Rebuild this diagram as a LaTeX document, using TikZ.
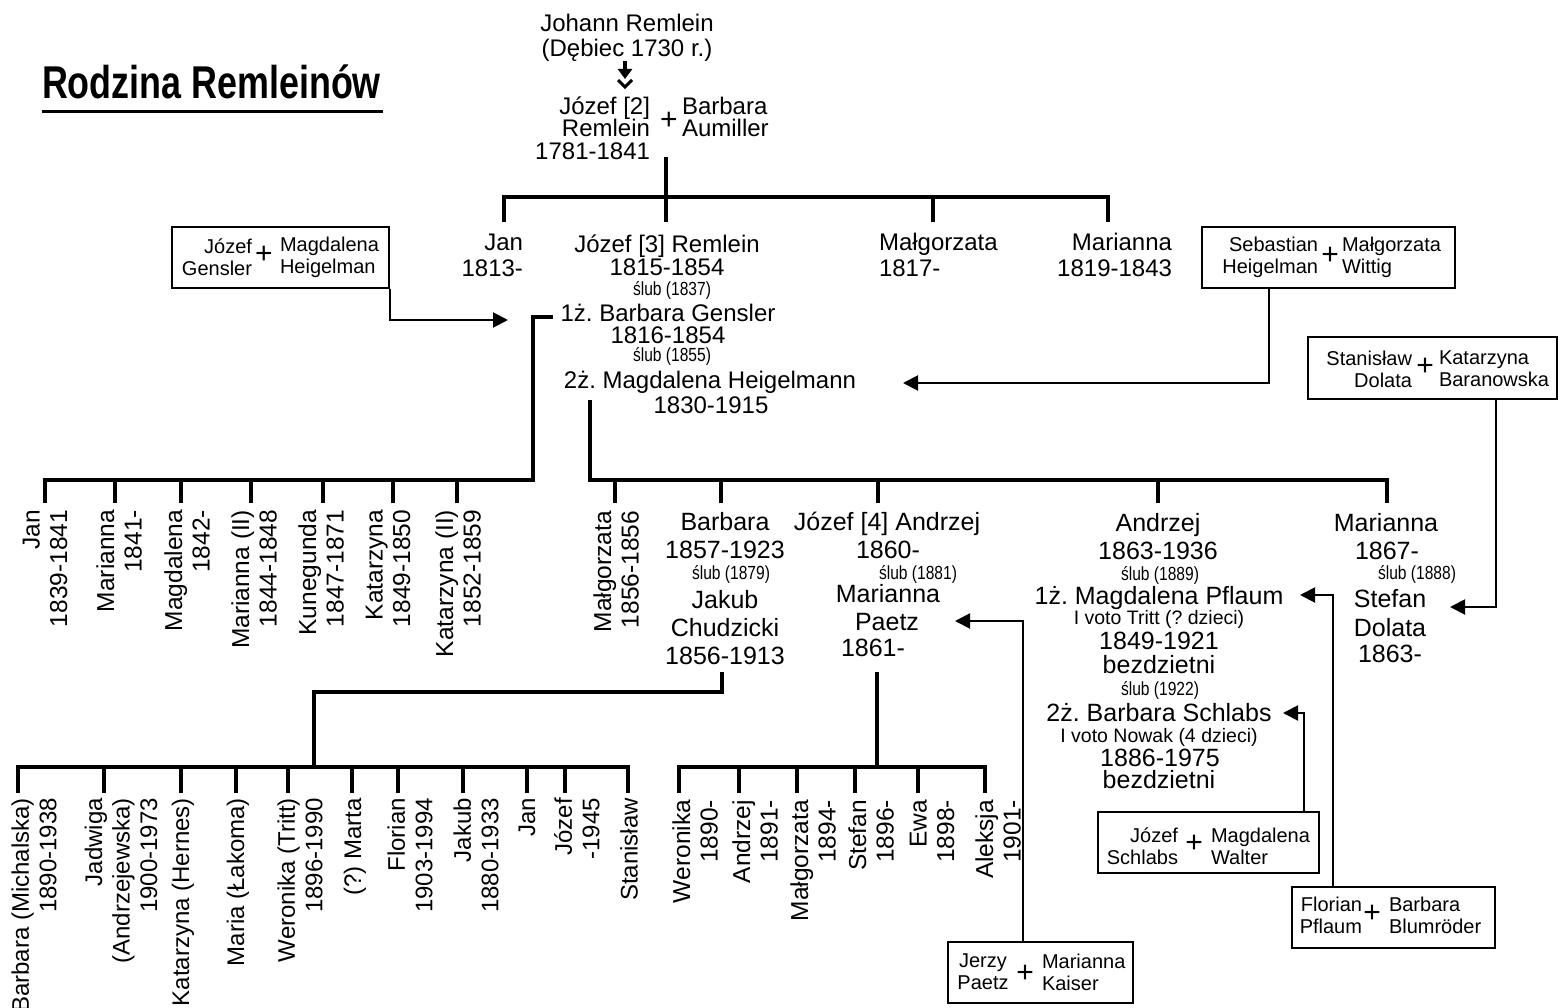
\documentclass[tikz,border=0pt]{standalone}
\usepackage{fontspec}
\setmainfont{Liberation Sans}
\newfontfamily\narrowfont[FakeStretch=0.82]{Liberation Sans}
\newfontfamily\titlefont[FakeStretch=0.78]{Liberation Sans}
\usetikzlibrary{arrows.meta}
\frenchspacing
\begin{document}
\begin{tikzpicture}[x=1pt,y=-1pt,
 t/.style={inner sep=0pt,outer sep=0pt},
 big/.style={t,font=\fontsize{24}{27}\selectfont},
 bigg/.style={t,font=\fontsize{25}{27}\selectfont},
 slub/.style={t,font=\narrowfont\fontsize{19}{20}\selectfont},
 mid/.style={t,font=\fontsize{19.5}{21}\selectfont},
 bx/.style={t,font=\fontsize{20}{22}\selectfont},
 plus/.style={t,font=\fontsize{30}{30}\selectfont},
 fam/.style={line width=3.8pt},
 arr/.style={line width=2pt,-{Triangle[length=15pt,width=15pt]}},
 fambox/.style={draw,line width=1.8pt,inner sep=0pt},
 kid/.style={t,rotate=90,anchor=east,align=right,font=\fontsize{24.5}{27.5}\selectfont},
 kidb/.style={kid,font=\fontsize{24}{27.5}\selectfont},
]
\fill[white] (0,0) rectangle (1563,1008);
\useasboundingbox (0,0) rectangle (1563,1008);

% title
\node[t,anchor=base west,font=\titlefont\bfseries\fontsize{46}{46}\selectfont] (title) at (42,99) {Rodzina Remleinów};
\draw[line width=3pt] (42,111.5) -- (383,111.5);

% generation 0
\node[big,anchor=base] (jr1) at (627,32) {Johann Remlein};
\node[big,anchor=base] (jr2) at (627,57) {(Dębiec 1730 r.)};
\coordinate (ar0) at (625,61);
\coordinate (ar1) at (625,79);
\draw[line width=4.5pt,-{Triangle[length=10pt,width=14pt]}] (ar0) -- (ar1);
\draw[line width=3pt] (618,80) -- (625,87) -- (632,80);

% generation 1
\node[big,anchor=base east] (j2a) at (650,115) {Józef [2]};
\node[big,anchor=base east] (j2b) at (650,137) {Remlein};
\node[big,anchor=base east] (j2c) at (650,160) {1781-1841};
\node[plus] (p0) at (669,121) {+};
\node[big,anchor=base west] (ba1) at (682,115) {Barbara};
\node[big,anchor=base west] (ba2) at (682,137) {Aumiller};

\draw[fam] (666,157) -- (666,222);
\draw[fam] (504,222) -- (504,197) -- (1108,197) -- (1108,222);
\draw[fam] (933,197) -- (933,222);

% generation 2
\node[big,anchor=base east] (g2a) at (523,251) {Jan};
\node[big,anchor=base east] (g2b) at (523,277) {1813-};
\node[big,anchor=base] (g3a) at (667,253) {Józef [3] Remlein};
\node[big,anchor=base] (g3b) at (667,276) {1815-1854};
\node[slub,anchor=base] (g3c) at (672,296) {ślub (1837)};
\node[big,anchor=base] (g3d) at (668,321) {1ż. Barbara Gensler};
\node[big,anchor=base] (g3e) at (668,343) {1816-1854};
\node[slub,anchor=base] (g3f) at (672,361) {ślub (1855)};
\node[big,anchor=base] (g3g) at (710,388) {2ż. Magdalena Heigelmann};
\node[big,anchor=base] (g3h) at (711,413) {1830-1915};
\node[big,anchor=base west] (g4a) at (879,251) {Małgorzata};
\node[big,anchor=base west] (g4b) at (879,277) {1817-};
\node[big,anchor=base east] (g5a) at (1172,251) {Marianna};
\node[big,anchor=base east] (g5b) at (1172,277) {1819-1843};

% boxes
\node[fambox,minimum width=217pt,minimum height=61pt] (bxG) at (280.5,257.5) {};
\node[bx,anchor=east,align=right] (bxGa) at (252,257) {Józef\\Gensler};
\node[plus] (bxGp) at (264,255) {+};
\node[bx,anchor=west,align=left] (bxGb) at (280,257) {Magdalena\\Heigelman};
\coordinate (tG) at (508,320);
\draw[arr] (bxG.south east) |- (tG);

\node[fambox,minimum width=253pt,minimum height=61pt] (bxS) at (1328.5,257.5) {};
\node[bx,anchor=east,align=right] (bxSa) at (1318,257) {Sebastian\\Heigelman};
\node[plus] (bxSp) at (1330,256) {+};
\node[bx,anchor=west,align=left] (bxSb) at (1342,257) {Małgorzata\\Wittig};
\coordinate (tS) at (903,383);
\draw[arr] ([xshift=-59.5pt]bxS.south) |- (tS);

\node[fambox,minimum width=249pt,minimum height=62pt] (bxD) at (1432.5,368) {};
\node[bx,anchor=east,align=right] (bxDa) at (1412,369) {Stanisław\\Dolata};
\node[plus] (bxDp) at (1425,367) {+};
\node[bx,anchor=west,align=left] (bxDb) at (1439,369) {Katarzyna\\Baranowska};
\coordinate (tD) at (1450,607);
\draw[arr] ([xshift=63.5pt]bxD.south) |- (tD);

\node[fambox,minimum width=221pt,minimum height=61pt] (bxJ) at (1208.5,842.5) {};
\node[bx,anchor=east,align=right] (bxJa) at (1178,846) {Józef\\Schlabs};
\node[plus] (bxJp) at (1194,844) {+};
\node[bx,anchor=west,align=left] (bxJb) at (1211,846) {Magdalena\\Walter};
\coordinate (tJ) at (1283,713);
\draw[arr] ([xshift=95.5pt]bxJ.north) |- (tJ);

\node[fambox,minimum width=203pt,minimum height=61pt] (bxF) at (1393.5,917.5) {};
\node[bx,anchor=east,align=right] (bxFa) at (1362,915) {Florian\\Pflaum};
\node[plus] (bxFp) at (1372,914) {+};
\node[bx,anchor=west,align=left] (bxFb) at (1389,915) {Barbara\\Blumröder};
\coordinate (tF) at (1300,595);
\draw[arr] ([xshift=-60.5pt]bxF.north) |- (tF);

\node[fambox,minimum width=185pt,minimum height=61pt] (bxP) at (1040.5,972.5) {};
\node[bx,align=center] (bxPa) at (983,972) {Jerzy\\Paetz};
\node[plus] (bxPp) at (1025,974) {+};
\node[bx,anchor=west,align=left] (bxPb) at (1042,972) {Marianna\\Kaiser};
\coordinate (tP) at (955,621);
\draw[arr] ([xshift=-17.5pt]bxP.north) |- (tP);

% first wife's children
\draw[fam] (553,317) -- (533,317) -- (533,480) -- (45,480) -- (45,503);
\foreach \xx in {115,181,251,323,393,457} \draw[fam] (\xx,480) -- (\xx,503);
\node[kid] (k1) at (45,510) {Jan\\1839-1841};
\node[kid] (k2) at (119,510) {Marianna\\1841-};
\node[kid] (k3) at (187,510) {Magdalena\\1842-};
\node[kid] (k4) at (254,510) {Marianna (II)\\1844-1848};
\node[kid] (k5) at (321,510) {Kunegunda\\1847-1871};
\node[kid] (k6) at (388,510) {Katarzyna\\1849-1850};
\node[kid] (k7) at (458,510) {Katarzyna (II)\\1852-1859};

% second wife's children
\draw[fam] (590,400) -- (590,480) -- (1387,480) -- (1387,503);
\foreach \xx in {615,721,878,1158} \draw[fam] (\xx,480) -- (\xx,503);
\node[kid] (m1) at (616,511) {Małgorzata\\1856-1856};

\node[bigg,anchor=base] (m2a) at (725,530) {Barbara};
\node[bigg,anchor=base] (m2b) at (725,558) {1857-1923};
\node[slub,anchor=base] (m2c) at (731,579) {ślub (1879)};
\node[bigg,anchor=base] (m2d) at (725,608) {Jakub};
\node[bigg,anchor=base] (m2e) at (725,636) {Chudzicki};
\node[bigg,anchor=base] (m2f) at (725,664) {1856-1913};

\node[bigg,anchor=base] (m3a) at (887,530) {Józef [4] Andrzej};
\node[bigg,anchor=base] (m3b) at (888,558) {1860-};
\node[slub,anchor=base] (m3c) at (918,579) {ślub (1881)};
\node[bigg,anchor=base] (m3d) at (888,602) {Marianna};
\node[bigg,anchor=base] (m3e) at (887,630) {Paetz};
\node[bigg,anchor=base] (m3f) at (873,656) {1861-};

\node[bigg,anchor=base] (m4a) at (1158,531) {Andrzej};
\node[bigg,anchor=base] (m4b) at (1158,559) {1863-1936};
\node[slub,anchor=base] (m4c) at (1160,580) {ślub (1889)};
\node[bigg,anchor=base] (m4d) at (1159,604) {1ż. Magdalena Pflaum};
\node[mid,anchor=base] (m4e) at (1159,624) {I voto Tritt (? dzieci)};
\node[bigg,anchor=base] (m4f) at (1159,649) {1849-1921};
\node[bigg,anchor=base] (m4g) at (1159,673) {bezdzietni};
\node[slub,anchor=base] (m4h) at (1160,695) {ślub (1922)};
\node[bigg,anchor=base] (m4i) at (1159,721) {2ż. Barbara Schlabs};
\node[mid,anchor=base] (m4j) at (1159,742) {I voto Nowak (4 dzieci)};
\node[bigg,anchor=base] (m4k) at (1160,766) {1886-1975};
\node[bigg,anchor=base] (m4l) at (1159,788) {bezdzietni};

\node[bigg,anchor=base] (m5a) at (1386,531) {Marianna};
\node[bigg,anchor=base] (m5b) at (1387,559) {1867-};
\node[slub,anchor=base] (m5c) at (1417,579) {ślub (1888)};
\node[bigg,anchor=base] (m5d) at (1390,607) {Stefan};
\node[bigg,anchor=base] (m5e) at (1390,636) {Dolata};
\node[bigg,anchor=base] (m5f) at (1390,662) {1863-};

% Barbara's children
\draw[fam] (722,672) -- (722,692) -- (314,692) -- (314,767);
\draw[fam] (18,793) -- (18,767) -- (628,767) -- (628,793);
\foreach \xx in {104,181,236,288,352,398,463,527,565} \draw[fam] (\xx,767) -- (\xx,793);
\node[kidb] (b1) at (34,798) {Barbara (Michalska)\\1890-1938};
\node[kidb] (b2) at (121,798) {Jadwiga\\(Andrzejewska)\\1900-1973};
\node[kidb] (b3) at (183,798) {Katarzyna (Hernes)};
\node[kidb] (b4) at (238,798) {Maria (Łakoma)};
\node[kidb] (b5) at (300,798) {Weronika (Tritt)\\1896-1990};
\node[kidb] (b6) at (355,798) {(?) Marta};
\node[kidb] (b7) at (410,798) {Florian\\1903-1994};
\node[kidb] (b8) at (476,798) {Jakub\\1880-1933};
\node[kidb] (b9) at (527,798) {Jan};
\node[kidb] (b10) at (577,798) {Józef\\-1945};
\node[kidb] (b11) at (629,798) {Stanisław};

% Jozef [4]'s children
\draw[fam] (877,672) -- (877,767);
\draw[fam] (679,793) -- (679,767) -- (985,767) -- (985,793);
\foreach \xx in {739,797,855,918} \draw[fam] (\xx,767) -- (\xx,793);
\node[kid] (c1) at (695,800) {Weronika\\1890-};
\node[kid] (c2) at (755,800) {Andrzej\\1891-};
\node[kid] (c3) at (813,800) {Małgorzata\\1894-};
\node[kid] (c4) at (871,800) {Stefan\\1896-};
\node[kid] (c5) at (932,800) {Ewa\\1898-};
\node[kid] (c6) at (998,800) {Aleksja\\1901-};
\end{tikzpicture}
\end{document}
